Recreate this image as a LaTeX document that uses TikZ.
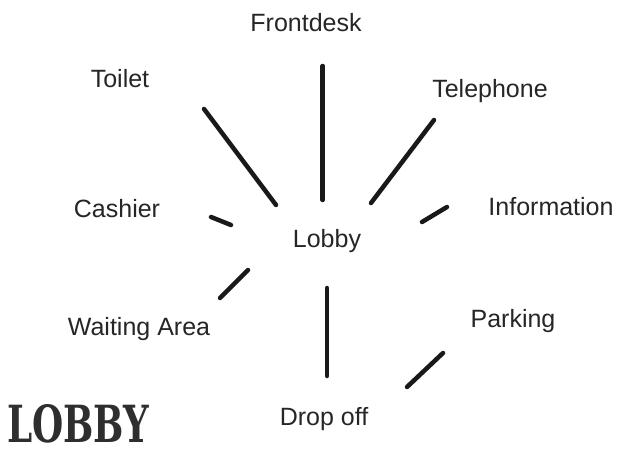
\documentclass[tikz,border=0pt]{standalone}
\usepackage{fontspec}
\setmainfont{Liberation Sans}
\newfontfamily\lobbyfont{DejaVu Serif}[BoldFont={* Bold}]
\begin{document}
\begin{tikzpicture}[x=1pt,y=-1pt,
  lbl/.style={inner sep=0pt, anchor=base, text=black!85, font=\fontsize{25}{30}\selectfont},
  spoke/.style={line width=4.5pt, line cap=round, black!90}]
\useasboundingbox (0,0) rectangle (621,460);
\fill[white] (0,0) rectangle (621,460);
% labels
\node[lbl] (front) at (306,32) {Frontdesk};
\node[lbl] (toilet) at (120,87) {Toilet};
\node[lbl] (tele) at (490,97) {Telephone};
\node[lbl] (cash) at (117,217) {Cashier};
\node[lbl] (info) at (551,215) {Information};
\node[lbl] (lobby) at (327,247) {Lobby};
\node[lbl] (wait) at (139,335) {Waiting Area};
\node[lbl] (park) at (513,327) {Parking};
\node[lbl] (drop) at (324,425) {Drop off};
\node[inner sep=0pt, anchor=south west, text=black!82] (title) at (7,443)
  {\resizebox{142pt}{38pt}{\lobbyfont\bfseries LOBBY}};
% spoke ends
\coordinate (f1) at (322.7,66);  \coordinate (f2) at (322.7,200);
\coordinate (t1) at (204,109);   \coordinate (t2) at (276,205);
\coordinate (p1) at (434,120);   \coordinate (p2) at (371,203);
\coordinate (c1) at (211,217);   \coordinate (c2) at (231,225);
\coordinate (i1) at (447,207);   \coordinate (i2) at (422,222);
\coordinate (w1) at (248,270);   \coordinate (w2) at (220,298);
\coordinate (d1) at (327,288);   \coordinate (d2) at (327,376);
\coordinate (k1) at (443,353);   \coordinate (k2) at (407,387);
% spokes
\draw[spoke] (f1) -- (f2);
\draw[spoke] (t1) -- (t2);
\draw[spoke] (p1) -- (p2);
\draw[spoke] (c1) -- (c2);
\draw[spoke] (i1) -- (i2);
\draw[spoke] (w1) -- (w2);
\draw[spoke] (d1) -- (d2);
\draw[spoke] (k1) -- (k2);
\end{tikzpicture}
\end{document}
